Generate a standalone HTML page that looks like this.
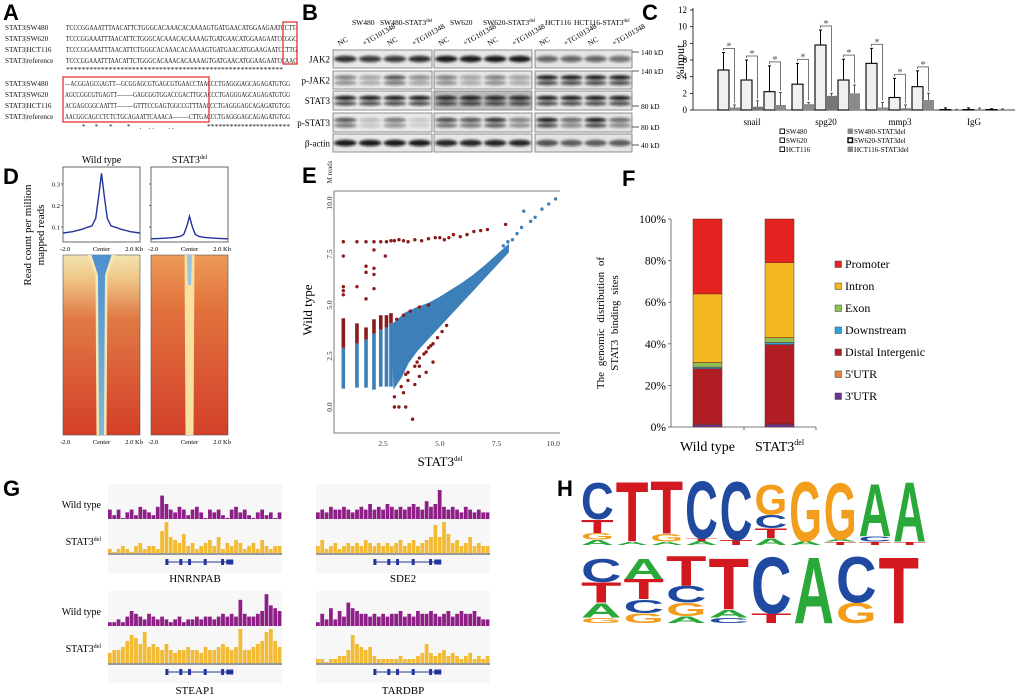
<!DOCTYPE html>
<html><head><meta charset="utf-8"><style>
html,body{margin:0;padding:0;background:#fff;}
svg{display:block;}
.sr{font-family:"Liberation Serif",serif;}
.pl{font-family:"Liberation Sans",sans-serif;font-weight:bold;font-size:22px;}
</style></head><body>
<svg id="fig" width="1020" height="697" viewBox="0 0 1020 697" xmlns="http://www.w3.org/2000/svg">
<defs>
<filter id="blur1" x="-20%" y="-50%" width="140%" height="200%"><feGaussianBlur stdDeviation="1.2"/></filter>
<linearGradient id="hmWt" x1="0" y1="0" x2="0" y2="1"><stop offset="0" stop-color="#f3e3b0"/><stop offset="0.12" stop-color="#f0c98a"/><stop offset="0.35" stop-color="#e07a45"/><stop offset="1" stop-color="#d43f28"/></linearGradient>
<linearGradient id="hmDel" x1="0" y1="0" x2="0" y2="1"><stop offset="0" stop-color="#ec9a58"/><stop offset="0.3" stop-color="#e2723d"/><stop offset="1" stop-color="#d2402a"/></linearGradient>
<linearGradient id="bandWt" x1="0" y1="0" x2="0" y2="1"><stop offset="0" stop-color="#4f8fcf"/><stop offset="1" stop-color="#7fb6dd"/></linearGradient>
</defs>

<!-- Panel labels -->
<text class="pl" x="3" y="20">A</text>
<text class="pl" x="302" y="20">B</text>
<text class="pl" x="642" y="20">C</text>
<text class="pl" x="3" y="184">D</text>
<text class="pl" x="302" y="183">E</text>
<text class="pl" x="622" y="186">F</text>
<text class="pl" x="3" y="496">G</text>
<text class="pl" x="557" y="496">H</text>

<!-- Panel A -->
<g class="sr" font-size="7.2" fill="#111">
<text x="5" y="30">STAT3|SW480</text>
<text x="5" y="41">STAT3|SW620</text>
<text x="5" y="52">STAT3|HCT116</text>
<text x="5" y="63">STAT3|reference</text>
<text x="66" y="30" textLength="231" lengthAdjust="spacingAndGlyphs">TCCCGGAAATTTAACATTCTGGGCACAAACACAAAAGTGATGAACATGGAAGAATCCTT-</text>
<text x="66" y="41" textLength="231" lengthAdjust="spacingAndGlyphs">TCCCGGAAATTTAACATTCTGGGCACAAACACAAAAGTGATGAACATGGAAGAATCCGGC</text>
<text x="66" y="52" textLength="231" lengthAdjust="spacingAndGlyphs">TCCCGGAAATTTAACATTCTGGGCACAAACACAAAAGTGATGAACATGGAAGAATCCTTG</text>
<text x="66" y="63" textLength="231" lengthAdjust="spacingAndGlyphs">TCCCGGAAATTTAACATTCTGGGCACAAACACAAAAGTGATGAACATGGAAGAATCCAAC</text>
<text x="66" y="72" textLength="217" lengthAdjust="spacingAndGlyphs">********************************************************</text>
<text x="5" y="86">STAT3|SW480</text>
<text x="5" y="97">STAT3|SW620</text>
<text x="5" y="108">STAT3|HCT116</text>
<text x="5" y="119">STAT3|reference</text>
<text x="65" y="86" textLength="225" lengthAdjust="spacingAndGlyphs">—ACGGAGCGAGTT—GCGGAGCGTGAGCGTGAACCTAACCCTGAGGGAGCAGAGATGTGG</text>
<text x="65" y="97" textLength="225" lengthAdjust="spacingAndGlyphs">AGCCGGCGTGAGTT———GAGCGGTGGACCGACTTGCACCCTGAGGGAGCAGAGATGTGG</text>
<text x="65" y="108" textLength="225" lengthAdjust="spacingAndGlyphs">ACGAGCGGCAATTT———GTTTCCGAGTGGCCGTTTAACCCTGAGGGAGCAGAGATGTGG</text>
<text x="65" y="119" textLength="225" lengthAdjust="spacingAndGlyphs">AACGGCAGCCTCTCTGCAGAATTCAAACA———CTTGACCCTGAGGGAGCAGAGATGTGG</text>
<text x="82" y="129" xml:space="preserve">*     *      *        *     .    . .        . .</text>
<text x="207" y="129" textLength="83" lengthAdjust="spacingAndGlyphs">**********************</text>
</g>
<rect x="283" y="22" width="14" height="42" fill="none" stroke="#e0322f" stroke-width="1.3"/>
<rect x="63" y="77" width="146" height="45" fill="none" stroke="#e0322f" stroke-width="1.3"/>

<!-- Panel B -->
<g id="blots" class="sr">
<text x="352" y="25" font-size="7.5">SW480</text>
<text x="380" y="25" font-size="7.5">SW480-STAT3<tspan font-size="5" dy="-3">del</tspan></text>
<text x="450" y="25" font-size="7.5">SW620</text>
<text x="483" y="25" font-size="7.5">SW620-STAT3<tspan font-size="5" dy="-3">del</tspan></text>
<text x="545" y="25" font-size="7.5">HCT116</text>
<text x="574" y="25" font-size="7.5">HCT116-STAT3<tspan font-size="5" dy="-3">del</tspan></text>
</g>

<g id="chartC" class="sr"></g>
<g id="panelD" class="sr"></g>
<g id="panelE" class="sr"></g>
<g id="panelF" class="sr"></g>
<g id="panelG" class="sr"></g>
<g id="panelH"></g>
</svg>

<script>
// ---------- data: panel C ----------
const cGenes = ["snail","spg20","mmp3","IgG"];
const cWild = [[4.8,3.6,2.2],[3.1,7.8,3.6],[5.6,1.5,2.8],[0.05,0.05,0.05]];
const cDel = [[0.3,0.4,0.6],[0.7,1.7,2.0],[0.3,0.2,1.2],[0.03,0.03,0.03]];
const cWildErr = [[2.1,2.4,3.1],[2.5,1.8,2.5],[1.8,2.3,1.9],[0.2,0.2,0.1]];
const cDelErr = [[0.3,0.7,1.5],[0.2,0.3,1.0],[0.6,0.4,0.8],[0.05,0.2,0.1]];
const cTicks = [0,2,4,6,8,10,12];
const cLegend = ["SW480","SW480-STAT3del","SW620","SW620-STAT3del","HCT116","HCT116-STAT3del"];
// ---------- data: panel D ----------
const dPos = [-2,-1.5,-1,-0.75,-0.5,-0.3,-0.15,0,0.15,0.3,0.5,0.75,1,1.5,2];
const dWild = [0.072,0.078,0.09,0.098,0.105,0.14,0.24,0.35,0.24,0.14,0.105,0.098,0.09,0.078,0.072];
const dDel = [0.045,0.047,0.05,0.052,0.056,0.065,0.1,0.15,0.1,0.065,0.056,0.052,0.05,0.047,0.045];
const dTicks = [0.1,0.2,0.3];
// ---------- data: panel E ----------
const eTicks = [0,2.5,5,7.5,10];
const eColX = [0.75,1.35,1.75,2.1,2.4,2.65,2.85];
const eColLo = [0.9,0.95,0.95,0.85,1.0,1.0,1.0];
const eColBlueHi = [2.9,3.1,3.3,3.6,3.8,3.9,4.1];
const eColRedHi = [4.35,4.1,3.9,4.3,4.5,4.5,4.6];
const eCloudX = [2.9,3.2,3.5,4.0,4.5,5.0,5.5,6.0,6.5,7.0,7.5,8.0,8.0,7.5,7.0,6.5,6.0,5.5,5.0,4.5,4.0,3.6,3.3,3.0];
const eCloudY = [4.0,4.3,4.6,4.85,5.05,5.35,5.7,6.05,6.45,6.9,7.4,7.9,7.6,7.0,6.4,5.8,5.2,4.6,4.0,3.4,2.8,2.2,1.5,1.0];
const eBlueX = [8.2,8.4,8.6,8.7,9.0,9.2,9.5,9.8,10.1,7.8,8.0];
const eBlueY = [8.2,8.5,8.8,9.6,9.1,9.3,9.7,9.95,10.2,7.9,8.1];
const eRedX = [0.75,1.35,1.75,2.1,2.4,2.65,2.85,3.0,3.2,3.4,3.6,3.9,4.2,4.5,4.8,5.0,5.2,5.4,5.6,5.9,6.2,6.5,6.8,7.1,7.9,
  0.75,2.1,2.6,1.75,2.1,1.75,2.1,0.75,0.75,0.75,1.35,2.1,1.75,
  3.8,3.0,3.2,3.5,3.0,3.4,3.3,3.9,3.6,4.1,3.5,4.4,4.7,4.1,
  3.6,3.9,4.1,4.3,4.5,4.7,4.9,5.1,5.3,4.0,4.4,4.6,3.1,3.4,3.7,4.1,4.5];
const eRedY = [8.1,8.1,8.1,8.1,8.1,8.1,8.15,8.15,8.2,8.15,8.1,8.2,8.15,8.25,8.3,8.3,8.2,8.3,8.45,8.35,8.45,8.6,8.65,8.7,8.95,
  7.4,7.7,7.4,6.9,6.8,6.6,6.5,5.9,5.7,5.5,5.9,5.8,5.3,
  -0.6,0.0,0.0,0.0,0.5,0.7,1.0,1.1,1.3,1.5,1.6,1.7,2.2,2.0,
  1.7,2.0,2.4,2.6,2.9,3.1,3.4,3.7,4.0,2.2,2.7,3.0,4.3,4.5,4.7,4.9,5.0];
// ---------- data: panel F ----------
const fCats = ["Wild type","STAT3del"];
const fLabels = ["3'UTR","5'UTR","Distal Intergenic","Downstream","Exon","Intron","Promoter"];
const fColors = ["#6a3393","#e8803a","#b01e23","#29a3db","#8cc152","#f4b920","#e52421"];
const fWild = [1.2,0.3,26.5,0.8,2.2,33,36];
const fDel = [1.3,0.3,38,1.0,2.4,36,21];
const fTicks = [0,20,40,60,80,100];
// ---------- data: panel G ----------
const gGenes = ["HNRNPAB","SDE2","STEAP1","TARDBP"];
const gWt1 = [3,1,3,0,2,3,1,4,3,2,1,4,8,5,3,2,4,3,1,3,4,2,0,3,2,3,1,0,3,4,2,3,1,0,2,3,1,2,0,2];
const gDel1 = [1,0,1,2,1,0,2,3,1,2,2,1,7,10,5,4,3,6,2,3,1,2,3,4,2,5,1,3,2,4,3,1,2,3,1,4,2,1,2,2];
const gWt2 = [2,3,2,4,3,3,4,3,2,3,4,3,5,3,4,3,5,4,3,4,3,4,5,4,3,6,4,5,10,4,3,4,3,2,4,3,2,3,2,2];
const gDel2 = [2,4,1,2,3,1,2,3,2,3,2,4,3,2,3,2,3,2,3,4,2,3,4,2,3,4,5,9,5,10,6,3,4,2,3,5,2,3,2,2];
const gWt3 = [1,1,2,1,3,5,4,3,2,4,3,2,3,2,1,2,3,1,2,2,3,2,3,3,2,3,4,3,4,3,9,4,3,3,4,5,11,7,6,5];
const gDel3 = [3,4,4,5,7,9,8,6,10,5,6,5,4,6,4,3,4,4,5,4,4,3,5,4,4,5,6,5,4,5,11,4,4,5,6,7,10,11,7,5];
const gWt4 = [1,4,2,6,2,5,3,8,6,5,4,4,3,4,3,4,3,4,4,5,3,4,3,5,4,4,5,4,3,4,5,3,4,5,4,4,5,3,2,2];
const gDel4 = [1,1,0,1,1,2,2,4,9,6,5,4,5,2,1,1,1,1,1,2,1,1,1,2,3,6,3,2,3,4,2,3,2,1,2,3,1,2,1,2];
// ---------- data: panel H ----------
const hMotif1 = [[["A",.08],["G",.1],["T",.2],["C",.55]],[["A",.05],["T",.9]],[["A",.05],["G",.12],["T",.8]],[["A",.06],["T",.04],["C",.86]],[["T",.08],["C",.88]],[["A",.1],["T",.15],["C",.2],["G",.45]],[["A",.06],["G",.9]],[["T",.05],["A",.04],["G",.85]],[["T",.05],["C",.08],["A",.8]],[["T",.05],["A",.9]]];
const hMotif2 = [[["G",.08],["A",.22],["T",.3],["C",.35]],[["G",.15],["C",.2],["T",.3],["A",.3]],[["A",.1],["G",.2],["C",.25],["T",.45]],[["C",.08],["A",.12],["T",.78]],[["T",.15],["C",.85]],[["A",1.0]],[["G",.3],["C",.7]],[["T",1.0]]];

const NS="http://www.w3.org/2000/svg";
function mk(parent, tag, attrs, txt){const e=document.createElementNS(NS,tag);for(const k in attrs)e.setAttribute(k,attrs[k]);if(txt!==undefined)e.textContent=txt;parent.appendChild(e);return e;}

// ---------- Panel B ----------
(function(){
  const g=document.getElementById('blots');
  const panels=[{x:333,w:99,bg:"#e9e9e9"},{x:434,w:98,bg:"#e6e6e6"},{x:535,w:97,bg:"#e4e4e4"}];
  const rows=["JAK2","p-JAK2","STAT3","p-STAT3","β-actin"];
  const rowY=[50,71,91,113,134];
  const rowH=[18,18,19,19,18];
  const bands=[
    [[.85,.8,.8,.85],[.5,.35,.7,.45],[.95,.95,.95,.95],[.7,.2,.55,.15],[.95,.95,.95,.95]],
    [[.95,.95,.95,.95],[.5,.35,.5,.35],[.9,.95,.9,.9],[.75,.7,.85,.5],[.9,.9,.9,.9]],
    [[.6,.6,.6,.55],[.95,.95,.95,.95],[.95,.95,.95,.95],[.95,.6,.95,.6],[.7,.65,.65,.65]]];
  for(let p=0;p<3;p++){
    const P=panels[p];
    for(let r=0;r<5;r++){
      const box=mk(g,'rect',{x:P.x,y:rowY[r],width:P.w,height:rowH[r],fill:(p==1&&r==2)?"#bdbdbd":P.bg,stroke:"#777","stroke-width":0.8});
      
      
      for(let l=0;l<4;l++){
        const v=bands[p][r][l];const cx=P.x+P.w*(l+0.5)/4;const cy=rowY[r]+rowH[r]/2;
        const dbl=(r==1||r==2||r==3);
        const b=mk(g,'ellipse',{cx:cx,cy:dbl?cy-2.5:cy,rx:P.w/8-1,ry:dbl?2.2:3.2,fill:"#111","fill-opacity":v,filter:"url(#blur1)"});
        
        
        if(dbl){const b2=mk(g,'ellipse',{cx:cx,cy:cy+3,rx:P.w/8-1,ry:2.2,fill:"#111","fill-opacity":v*0.75,filter:"url(#blur1)"});
          
          }
      }
      for(let l=0;l<4;l++){
        if(r>0)continue;
        const lx=P.x+P.w*(l+0.5)/4-6;
        const t=mk(g,'text',{x:lx,y:46,"font-size":7.5,transform:`rotate(-30 ${lx} 46)`},l%2?"+TG101348":"NC");
        
        
      }
    }
  }
  rows.forEach((n,r)=>{const t=mk(g,'text',{x:330,y:rowY[r]+rowH[r]/2+3.5,"font-size":9,"text-anchor":"end"},n);
    
    });
  const kd=[["140 kD",55],["140 kD",74],["80 kD",109],["80 kD",130],["40 kD",148]];
  kd.forEach(k=>{mk(g,'line',{x1:632,x2:639,y1:k[1]-3,y2:k[1]-3,stroke:"#333","stroke-width":0.8});
    const t=mk(g,'text',{x:641,y:k[1],"font-size":7.5},k[0]);
    
    });
})();

// ---------- Panel C ----------
(function(){
  const g=document.getElementById('chartC');
  const y=v=>110-8.33*v; const x0=693,x1=1015;
  const gc=i=>752+74*i;
  mk(g,'line',{x1:x0,x2:x0,y1:8,y2:110,stroke:"#000","stroke-width":0.8});
  mk(g,'line',{x1:x0,x2:x1,y1:110,y2:110,stroke:"#000","stroke-width":0.8});
  cTicks.forEach(t=>{mk(g,'line',{x1:x0-3,x2:x0,y1:y(t),y2:y(t),stroke:"#000","stroke-width":0.8});
    const l=mk(g,'text',{x:x0-6,y:y(t)+3,"font-size":9,"text-anchor":"end"},t);
    
    });
  const yt=mk(g,'text',{x:0,y:0,"font-size":12,"text-anchor":"middle",transform:"translate(684,62) rotate(-90)"},"%input");
  
  
  cGenes.forEach((gn,i)=>{
    const lab=mk(g,'text',{x:gc(i),y:125,"font-size":9,"text-anchor":"middle"},gn);
    
    
    for(let p=0;p<3;p++){
      const bx=gc(i)-34+p*23;
      const wv=cWild[i][p],dv=cDel[i][p];
      const we=cWildErr[i][p],de=cDelErr[i][p];
      mk(g,'line',{x1:bx+5.5,x2:bx+5.5,y1:y(wv),y2:y(wv+we),stroke:"#000","stroke-width":1});
      mk(g,'line',{x1:bx+4,x2:bx+7,y1:y(wv+we),y2:y(wv+we),stroke:"#000","stroke-width":1});
      const b1=mk(g,'rect',{x:bx,y:y(wv),width:11,height:110-y(wv),fill:"#f0f0f0",stroke:"#000","stroke-width":1.1});
      
      
      mk(g,'line',{x1:bx+16.5,x2:bx+16.5,y1:y(dv),y2:y(dv+de),stroke:"#555","stroke-width":1});
      mk(g,'line',{x1:bx+15,x2:bx+18,y1:y(dv+de),y2:y(dv+de),stroke:"#555","stroke-width":1});
      const b2=mk(g,'rect',{x:bx+11,y:y(dv),width:11,height:110-y(dv),fill:p==1?"#777":"#8a8a8a"});
      
      
      if(i<3){
        const top=y(wv+we)-4;
        mk(g,'path',{d:`M${bx+5.5} ${y(wv+we)-2} V${top} H${bx+16.5} V${y(dv+de)-2}`,fill:"none",stroke:"#777","stroke-width":1});
        const s=mk(g,'text',{x:bx+11,y:top+1,"font-size":11,"text-anchor":"middle",fill:"#555"},"*");
        
        
      }
    }
  });
  cLegend.forEach((n,k)=>{const lx=k%2?848:780, ly=134+9*Math.floor(k/2);
    const sw=mk(g,'rect',{x:lx,y:ly-5,width:4.5,height:4.5,fill:k%2?(k==3?"#fff":"#888"):"#fff",stroke:k%2&&k!=3?"#888":"#000","stroke-width":k==3?1.4:0.9});
    
    
    const t=mk(g,'text',{x:lx+6,y:ly,"font-size":7},n);
    
    });
})();

// ---------- Panel D ----------
(function(){
  const g=document.getElementById('panelD');
  const boxes=[{x:63,w:77,d:dWild,t:"Wild type"},{x:151,w:77,d:dDel,t:"STAT3"}];
  const y=v=>248.5-215*v;
  boxes.forEach((B,bi)=>{
    const xs=p=>B.x+(p+2)/4*B.w;
    const fr=mk(g,'rect',{x:B.x,y:167,width:B.w,height:75,fill:"#fff",stroke:"#444","stroke-width":0.8});
    
    
    let d="";dPos.forEach((p,i)=>{d+=(i?"L":"M")+xs(p).toFixed(1)+" "+y(B.d[i]).toFixed(1);});
    const ln=mk(g,'path',{d:d,fill:"none",stroke:"#23339a","stroke-width":1.4});
    
    
    const tt=mk(g,'text',{x:B.x+B.w/2,y:163,"font-size":10,"text-anchor":"middle"},B.t);
    
    
    if(bi==1){mk(tt,'tspan',{"font-size":6,dy:-4},"del");}
    dTicks.forEach(t=>{mk(g,'line',{x1:B.x-2,x2:B.x,y1:y(t),y2:y(t),stroke:"#444","stroke-width":0.8});
      if(bi==0){const l=mk(g,'text',{x:B.x-3,y:y(t)+2.5,"font-size":6.5,"text-anchor":"end"},t);
        
        }});
    [["-2.0",-2,"start"],["Center",0,"middle"],["2.0 Kb",2,"end"]].forEach(a=>{
      [251,444].forEach(yy=>{const l=mk(g,'text',{x:xs(a[1])+(a[2]=="start"?-3:a[2]=="end"?3:0),y:yy,"font-size":6.5,"text-anchor":a[2]},a[0]);
        
        });});
    const hm=mk(g,'rect',{x:B.x,y:255,width:B.w,height:180,fill:bi?"url(#hmDel)":"url(#hmWt)",stroke:"#555","stroke-width":0.6});
    
    
    const c=xs(0);
    if(bi==0){
      mk(g,'path',{d:`M${c-14} 255 L${c+14} 255 L${c+6} 275 L${c+5} 435 L${c-5} 435 L${c-6} 275 Z`,fill:"#f6e7b0"});
      mk(g,'path',{d:`M${c-10} 255 L${c+10} 255 L${c+3.5} 275 L${c+2.5} 435 L${c-2.5} 435 L${c-3.5} 275 Z`,fill:"url(#bandWt)"});
    }else{
      mk(g,'path',{d:`M${c-5} 255 L${c+5} 255 L${c+4} 435 L${c-4} 435 Z`,fill:"#f7e0a0"});
      mk(g,'path',{d:`M${c-2.5} 255 L${c+2.5} 255 L${c+1.5} 285 L${c-1.5} 285 Z`,fill:"#9cc3df"});
    }
  });
  const yt=mk(g,'text',{x:0,y:0,"font-size":11,"text-anchor":"middle",transform:"translate(31,235) rotate(-90)"},"Read count per million");
  
  
  const yt2=mk(g,'text',{x:0,y:0,"font-size":11,"text-anchor":"middle",transform:"translate(44,235) rotate(-90)"},"mapped reads");
  
  
})();

// ---------- Panel E ----------
(function(){
  const g=document.getElementById('panelE');
  const X=v=>326.3+22.7*v, Y=v=>407-20.4*v;
  mk(g,'path',{d:"M334 191 H560 M334 191 V433 H560",fill:"none",stroke:"#999","stroke-width":1.3});
  eTicks.forEach(t=>{
    if(t>0){const l=mk(g,'text',{x:X(t),y:446,"font-size":7.5,"text-anchor":"middle",fill:"#333"},t.toFixed(1));
      
      }
    const l2=mk(g,'text',{x:0,y:0,"font-size":7.5,"text-anchor":"middle",fill:"#333",transform:`translate(332,${Y(t)}) rotate(-90)`},t.toFixed(1));
    
    
  });
  const mr=mk(g,'text',{x:0,y:0,"font-size":7,"text-anchor":"middle",fill:"#333",transform:"translate(332,172) rotate(-90)"},"M reads");
  
  
  const xt=mk(g,'text',{x:440,y:466,"font-size":13,"text-anchor":"middle"},"STAT3");
  
  
  mk(xt,'tspan',{"font-size":7,dy:-5},"del");
  const yt=mk(g,'text',{x:0,y:0,"font-size":13,"text-anchor":"middle",transform:"translate(312,310) rotate(-90)"},"Wild type");
  
  
  eColX.forEach((cx,i)=>{
    const r=mk(g,'rect',{x:X(cx)-1.8,y:Y(eColRedHi[i]),width:3.6,height:Y(eColBlueHi[i])-Y(eColRedHi[i]),fill:"#8b1a1a"});
    
    
    const b=mk(g,'rect',{x:X(cx)-1.8,y:Y(eColBlueHi[i]),width:3.6,height:Y(eColLo[i])-Y(eColBlueHi[i]),fill:"#3d7fb8"});
    
    
  });
  let d="";eCloudX.forEach((v,i)=>{d+=(i?"L":"M")+X(v).toFixed(1)+" "+Y(eCloudY[i]).toFixed(1);});
  const cl=mk(g,'path',{d:d+"Z",fill:"#3d7fb8",stroke:"#3d7fb8","stroke-width":2});
  
  
  eBlueX.forEach((v,i)=>{const p=mk(g,'circle',{cx:X(v),cy:Y(eBlueY[i]),r:1.7,fill:"#3d7fb8"});
    
    });
  eRedX.forEach((v,i)=>{const p=mk(g,'circle',{cx:X(v),cy:Y(eRedY[i]),r:1.7,fill:"#8b1a1a"});
    
    });
})();

// ---------- Panel F ----------
(function(){
  const g=document.getElementById('panelF');
  const Y=p=>427-2.08*p;
  mk(g,'path',{d:"M671 219 V427 H816",fill:"none",stroke:"#555","stroke-width":0.8});
  [744,816].forEach(xx=>mk(g,'line',{x1:xx,x2:xx,y1:427,y2:430,stroke:"#555","stroke-width":0.8}));
  fTicks.forEach(t=>{mk(g,'line',{x1:668,x2:671,y1:Y(t),y2:Y(t),stroke:"#555","stroke-width":0.8});
    const l=mk(g,'text',{x:666,y:Y(t)+4,"font-size":11.5,"text-anchor":"end"},t+"%");
    
    });
  const t1=mk(g,'text',{x:0,y:0,"font-size":11,"text-anchor":"middle",transform:"translate(604,323) rotate(-90)","word-spacing":"3"},"The genomic distribution of");
  
  
  const t2=mk(g,'text',{x:0,y:0,"font-size":11,"text-anchor":"middle",transform:"translate(618,323) rotate(-90)","word-spacing":"3"},"STAT3 binding sites");
  
  
  const series=[fWild,fDel], bx=[693,765];
  series.forEach((s,si)=>{
    let acc=0;
    s.forEach((v,k)=>{const seg=mk(g,'rect',{x:bx[si],y:Y(acc+v),width:29,height:Y(acc)-Y(acc+v),fill:fColors[k],stroke:"#6d2a20","stroke-width":0.5});
      
      
      acc+=v;});
    const l=mk(g,'text',{x:bx[si]+14.5,y:451,"font-size":14,"text-anchor":"middle"},si?"STAT3":fCats[0]);
    
    
    if(si)mk(l,'tspan',{"font-size":8,dy:-6},"del");
  });
  for(let k=6;k>=0;k--){const ly=268+(6-k)*22;
    const sw=mk(g,'rect',{x:835,y:ly-7,width:6.5,height:6.5,fill:fColors[k],stroke:"#444","stroke-width":0.5});
    
    
    const t=mk(g,'text',{x:845,y:ly,"font-size":12},fLabels[k]);
    
    }
})();

// ---------- Panel G ----------
(function(){
  const g=document.getElementById('panelG');
  const blocks=[{x:108,wt:gWt1,del:gDel1,b1:519,b2:553,gene:0},{x:316,wt:gWt2,del:gDel2,b1:519,b2:553,gene:1},
                {x:108,wt:gWt3,del:gDel3,b1:626,b2:663,gene:2},{x:316,wt:gWt4,del:gDel4,b1:626,b2:663,gene:3}];
  const W=174;
  blocks.forEach(B=>{
    mk(g,'rect',{x:B.x,y:B.b1-35,width:W,height:B.b2-B.b1+55,fill:"#f7f7f7"});
    [[B.wt,B.b1,"#8e1f86",2.8],[B.del,B.b2,"#f3bb33",3.0]].forEach(T=>{
      const n=T[0].length,bw=W/n;
      T[0].forEach((v,i)=>{const r=mk(g,'rect',{x:B.x+i*bw,y:T[1]-v*T[3]-1,width:bw-0.6,height:v*T[3]+1,fill:T[2]});
        
        });
    });
    mk(g,'rect',{x:B.x,y:B.b2,width:W,height:2,fill:"#999"});
    const gy=B.b2+9;
    const gl=mk(g,'line',{x1:B.x+W*0.33,x2:B.x+W*0.72,y1:gy,y2:gy,stroke:"#22349a","stroke-width":1});
    
    
    [0.33,0.41,0.46,0.55,0.65].forEach(f=>mk(g,'rect',{x:B.x+W*f,y:gy-3,width:3,height:6,fill:"#22349a"}));
    mk(g,'rect',{x:B.x+W*0.68,y:gy-2.5,width:W*0.04,height:5,fill:"#22349a"});
    const lab=mk(g,'text',{x:B.x+W/2,y:B.gene<2?582:694,"font-size":11,"text-anchor":"middle"},gGenes[B.gene]);
    
    
  });
  [[508,545],[615,652]].forEach(p=>{
    const a=mk(g,'text',{x:101,y:p[0],"font-size":10,"text-anchor":"end"},"Wild type");
    
    
    const b=mk(g,'text',{x:101,y:p[1],"font-size":10,"text-anchor":"end"},"STAT3");
    
    
    mk(b,'tspan',{"font-size":6,dy:-4},"del");
  });
})();

// ---------- Panel H ----------
(function(){
  const g=document.getElementById('panelH');
  const col={A:"#2aa83a",C:"#1f4aa0",G:"#f29d1b",T:"#d2191f"};
  function draw(motif,x0,w,yb,H){
    motif.forEach((stack,i)=>{
      let y=yb;
      stack.forEach(([L,f])=>{
        const h=f*H;
        const t=mk(g,'text',{x:0,y:0,"font-size":100,"font-family":"Liberation Sans, sans-serif","font-weight":"bold",fill:col[L],textLength:70,lengthAdjust:"spacingAndGlyphs",transform:`translate(${(x0+i*w+1).toFixed(1)},${y.toFixed(1)}) scale(${((w-2)/70).toFixed(4)},${(h/72).toFixed(4)})`},L);
        
        
        y-=h;
      });
    });
  }
  draw(hMotif1,580,34.7,545,68);
  draw(hMotif2,580,42.5,623,68);
})();
</script>
</body></html>
